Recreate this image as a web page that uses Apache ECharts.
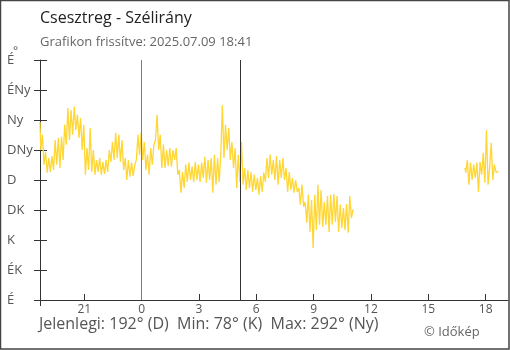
<!DOCTYPE html>
<html>
<head>
<meta charset="utf-8">
<script src="https://cdn.jsdelivr.net/npm/echarts@6/dist/echarts.min.js"></script>
<style>
html,body{margin:0;padding:0;background:#fff;}
#c{width:510px;height:350px;}
</style>
</head>
<body>
<div id="c"></div>
<script>
// ---- data ----
// hours counted from 00:00 of 2025-07-08 (so 24 = midnight, 42.68 = 18:41 on 07-09)
var xMin = 18.683;            // 18:41 previous day
var xMax = 43.17;
var stepHours = 5 / 60;       // one reading every 5 minutes
var seg1Start = 18.683;       // 18:41
var seg1Values = [
  267,225,248,203,222,191,213,192,216,195,
  240,203,243,198,245,210,263,233,288,240,
  285,248,290,255,278,243,273,225,263,188,
  228,195,258,192,225,188,210,192,213,188,
  207,189,210,192,225,207,237,210,251,213,
  248,207,240,195,213,180,210,185,206,186,
  203,210,248,218,251,210,237,195,218,188,
  228,203,233,240,278,225,248,198,233,198,
  225,201,228,200,225,210,228,188,195,161,
  192,168,203,177,206,180,200,177,207,180,
  203,177,206,183,215,176,210,180,213,161,
  218,173,213,177,218,292,213,263,225,258,
  210,237,198,228,168,218,177,237,173,198,
  165,195,168,192,162,188,165,183,158,186,
  162,191,177,213,183,218,188,210,180,216,
  173,210,183,213,180,198,162,192,165,183,
  161,180,162,168,143,173,140,147,116,158,
  102,150,78,158,105,173,113,165,110,147,
  113,156,102,158,113,159,117,156,102,143,
  108,138,105,144,101,156,123,135
];
var seg2Start = 40.917;       // 16:55
var seg2Values = [
  198,191,210,173,206,180,203,183,206,162,
  207,188,221,176,255,173,198,236,180,203,
  192,192
];
var xTickValues = [21,24,27,30,33,36,39,42];
var yTickLabels = ['É','ÉK','K','DK','D','DNy','Ny','ÉNy','É'];
var midnightLine = 24;        // 0:00
var sunriseLine = 29.18;      // ~5:11
var titleText = 'Csesztreg - Szélirány';
var subText = 'Grafikon frissítve: 2025.07.09 18:41';
var footerText = 'Jelenlegi: 192° (D)  Min: 78° (K)  Max: 292° (Ny)';
var creditText = '© Időkép';

// ---- build ----
var data1 = seg1Values.map(function(v,i){ return [seg1Start + i*stepHours, v]; });
var data2 = seg2Values.map(function(v,i){ return [seg2Start + i*stepHours, v]; });

var font = 'Open Sans';
var lineColor = '#FFD633';
var chart = echarts.init(document.getElementById('c'), null, {renderer:'canvas'});
chart.setOption({
  animation:false,
  backgroundColor:'#fff',
  title:[
    {text:titleText, left:40, top:10, padding:0, textStyle:{fontFamily:font, fontSize:16, fontWeight:'normal', color:'#222'}},
    {text:subText, left:40, top:36, padding:0, textStyle:{fontFamily:font, fontSize:13, fontWeight:'normal', color:'#666'}},
    {text:'°', left:13, top:46, padding:0, textStyle:{fontFamily:font, fontSize:12, fontWeight:'normal', color:'#555'}},
    {text:footerText, left:39, top:316, padding:0, textStyle:{fontFamily:font, fontSize:16, fontWeight:'normal', color:'#555'}},
    {text:creditText, left:424, top:326, padding:0, textStyle:{fontFamily:font, fontSize:13, fontWeight:'normal', color:'#666'}}
  ],
  graphic:[
    {type:'rect', silent:true, z:100, shape:{x:0.5,y:0.5,width:508.5,height:348.5},
     style:{fill:'none', stroke:'#444', lineWidth:1.5}}
  ],
  grid:{left:40, right:2, top:60, bottom:50, containLabel:false},
  xAxis:[
    {type:'value', min:xMin, max:xMax,
     axisLine:{show:true, lineStyle:{color:'#333', width:1}},
     axisTick:{show:true, inside:true, length:6, customValues:xTickValues, lineStyle:{color:'#333'}},
     axisLabel:{show:true, customValues:xTickValues, margin:4, color:'#555', fontFamily:font, fontSize:12,
       formatter:function(v){ return String(Math.round(v) % 24); }},
     splitLine:{show:false}},
    {type:'value', min:xMin, max:xMax, position:'bottom', offset:0,
     axisLine:{show:false},
     axisTick:{show:true, inside:false, length:6, customValues:[xMin], lineStyle:{color:'#333'}},
     axisLabel:{show:false}, splitLine:{show:false}}
  ],
  yAxis:[
    {type:'value', min:0, max:360, interval:45,
     axisLine:{show:true, lineStyle:{color:'#333', width:1}},
     axisTick:{show:true, inside:false, length:6, lineStyle:{color:'#333'}},
     axisLabel:{show:true, align:'left', margin:33, color:'#555', fontFamily:font, fontSize:13,
       formatter:function(v){ return yTickLabels[Math.round(v/45)]; }},
     splitLine:{show:false}},
    {type:'value', min:0, max:360, interval:45, position:'left', offset:0,
     axisLine:{show:false},
     axisTick:{show:true, inside:true, length:7, lineStyle:{color:'#333'}},
     axisLabel:{show:false}, splitLine:{show:false}}
  ],
  series:[{
    type:'line', xAxisIndex:0, yAxisIndex:0, step:'middle',
    data:data1, showSymbol:false, symbol:'none',
    lineStyle:{color:lineColor, width:1.3},
    markLine:{
      silent:true, symbol:['none','none'], label:{show:false},
      data:[
        {xAxis:midnightLine, lineStyle:{color:'#3a8fd0', width:1, type:'solid'}},
        {xAxis:sunriseLine, lineStyle:{color:'#333', width:1, type:'solid'}}
      ]
    }
  },{
    type:'line', xAxisIndex:0, yAxisIndex:0, step:'middle',
    data:data2, showSymbol:false, symbol:'none',
    lineStyle:{color:lineColor, width:1.3}
  }]
});
</script>
</body>
</html>
